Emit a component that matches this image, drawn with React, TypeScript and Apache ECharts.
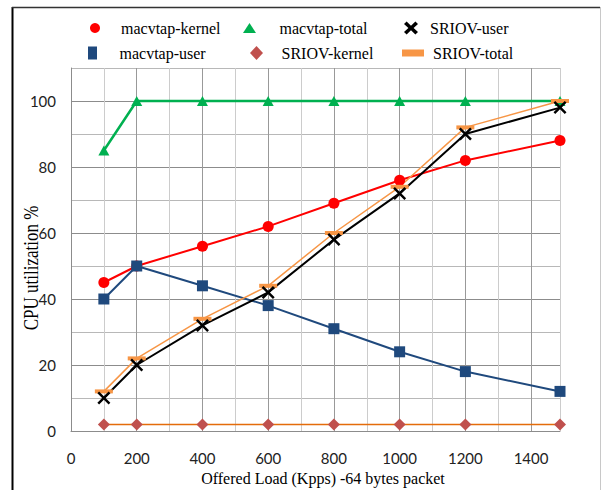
import React, { useEffect, useRef } from "react";
import * as echarts from "echarts";

const xValues = [100, 200, 400, 600, 800, 1000, 1200, 1488];
const macvtapKernel = [45, 50, 56, 62, 69, 76, 82, 88];
const macvtapTotal = [85, 100, 100, 100, 100, 100, 100, 100];
const sriovUser = [10, 20, 32, 42, 58, 72, 90, 98];
const macvtapUser = [40, 50, 44, 38, 31, 24, 18, 12];
const sriovKernel = [2, 2, 2, 2, 2, 2, 2, 2];
const sriovTotal = [12, 22, 34, 44, 60, 74, 92, 100];

const xTitle = "Offered Load (Kpps) -64 bytes packet";
const yTitle = "CPU utilization %";

const X_PATH = "path://M0 1.6L1.6 0L6 4.4L10.4 0L12 1.6L7.6 6L12 10.4L10.4 12L6 7.6L1.6 12L0 10.4L4.4 6Z";
const X_LEGEND = "path://M0 2.6L2.6 0L7 4.2L11.4 0L14 2.6L9.6 6.5L14 10.4L11.4 13L7 8.8L2.6 13L0 10.4L4.4 6.5Z";
const TRI_LEGEND = "path://M6.5 0L13 10H0Z";
const SQ_LEGEND = "path://M0 0H9V13H0Z";
const DIA_LEGEND = "path://M6.5 0L13 7L6.5 14L0 7Z";
const BAR_LEGEND = "path://M0 0H22V7H0Z";

const pair = (ys: number[]) => xValues.map((x, i) => [x, ys[i]]);

export default function App() {
  const ref = useRef<HTMLDivElement>(null);
  useEffect(() => {
    document.body.style.margin = "0";
    if (!ref.current) return;
    const chart = echarts.init(ref.current, undefined, { renderer: "svg" });
    const serif = "'Liberation Serif', 'Times New Roman', serif";
    const legendBase = {
      padding: 0,
      itemGap: 0,
      selectedMode: false,
      textStyle: { fontFamily: serif, fontSize: 16, color: "#000", lineHeight: 18 },
      itemStyle: { borderWidth: 0 },
    };
    const mkLegend = (name: string, icon: string, left: number, top: number, w: number, h: number) => ({
      ...legendBase,
      data: [{ name, icon }],
      left,
      top,
      itemWidth: w,
      itemHeight: h,
    });
    const lineSeries = (
      name: string,
      ys: number[],
      lineColor: string,
      markColor: string,
      width: number,
      symbol: string,
      symbolSize: number | number[]
    ) => ({
      name,
      type: "line",
      data: pair(ys),
      symbol,
      symbolSize,
      showSymbol: true,
      lineStyle: { color: lineColor, width },
      itemStyle: { color: markColor, borderWidth: 0 },
      emphasis: { disabled: true },
    });
    chart.setOption({
      animation: false,
      backgroundColor: "#fff",
      grid: { left: 71, right: 45, top: 68, bottom: 59 },
      legend: [
        mkLegend("macvtap-kernel", "circle", 90, 19, 42, 10),
        mkLegend("macvtap-total", TRI_LEGEND, 243, 19, 50, 10),
        mkLegend("SRIOV-user", X_LEGEND, 404, 19, 28, 13),
        mkLegend("macvtap-user", SQ_LEGEND, 88, 44, 44, 13),
        mkLegend("SRIOV-kernel", DIA_LEGEND, 250, 44, 40, 14),
        mkLegend("SRIOV-total", BAR_LEGEND, 402, 44, 30, 7),
      ],
      xAxis: {
        type: "value",
        min: 0,
        max: 1488,
        interval: 100,
        axisLine: { show: true, lineStyle: { color: "#8c8c8c", width: 1 } },
        axisTick: { show: false },
        axisLabel: {
          margin: 19,
          fontFamily: "Lato, 'Open Sans', sans-serif",
          fontSize: 15,
          color: "#222",
          showMaxLabel: false,
          formatter: (v: number) => (v % 200 === 0 ? String(v) : ""),
        },
        splitLine: { show: true, lineStyle: { color: ["#999999", "#cccccc"], width: 1 } },
      },
      yAxis: {
        type: "value",
        min: 0,
        max: 110,
        interval: 10,
        axisLine: { show: true, lineStyle: { color: "#8c8c8c", width: 1 } },
        axisTick: { show: false },
        axisLabel: {
          margin: 15,
          fontFamily: "Lato, 'Open Sans', sans-serif",
          fontSize: 15,
          color: "#222",
          formatter: (v: number) => (v % 20 === 0 && v <= 100 ? String(v) : ""),
        },
        splitLine: { show: true, lineStyle: { color: ["#8c8c8c", "#b8b8b8"], width: 1 } },
      },
      graphic: [
        { type: "line", shape: { x1: 12.5, y1: 7, x2: 12.5, y2: 490 }, style: { stroke: "#000", lineWidth: 2 } },
        { type: "line", shape: { x1: 12, y1: 7.5, x2: 600, y2: 7.5 }, style: { stroke: "#333", lineWidth: 1.5 } },
        { type: "line", shape: { x1: 600.5, y1: 7, x2: 600.5, y2: 490 }, style: { stroke: "#c8c8c8", lineWidth: 1 } },
        {
          type: "text",
          x: 323,
          y: 478,
          style: { text: xTitle, fontFamily: serif, fontSize: 16, fill: "#000", textAlign: "center", textVerticalAlign: "middle" },
        },
        {
          type: "text",
          x: 31,
          y: 268,
          rotation: Math.PI / 2,
          scaleY: 1.25,
          style: { text: yTitle, fontFamily: serif, fontSize: 17, fill: "#000", textAlign: "center", textVerticalAlign: "middle" },
        },
      ],
      series: [
        lineSeries("macvtap-total", macvtapTotal, "#00B050", "#00B050", 2.5, "triangle", [11, 10]),
        lineSeries("SRIOV-kernel", sriovKernel, "#E46C0A", "#C0504D", 1.5, "diamond", 12),
        lineSeries("macvtap-kernel", macvtapKernel, "#FF0000", "#FF0000", 2, "circle", 11),
        lineSeries("macvtap-user", macvtapUser, "#1F497D", "#1F497D", 2, "rect", 11),
        lineSeries("SRIOV-total", sriovTotal, "#F79646", "#F79646", 1.5, "rect", [18, 4]),
        lineSeries("SRIOV-user", sriovUser, "#000000", "#000000", 2, X_PATH, 13),
      ],
    });
    return () => chart.dispose();
  }, []);
  return <div ref={ref} style={{ width: 605, height: 490 }} />;
}
